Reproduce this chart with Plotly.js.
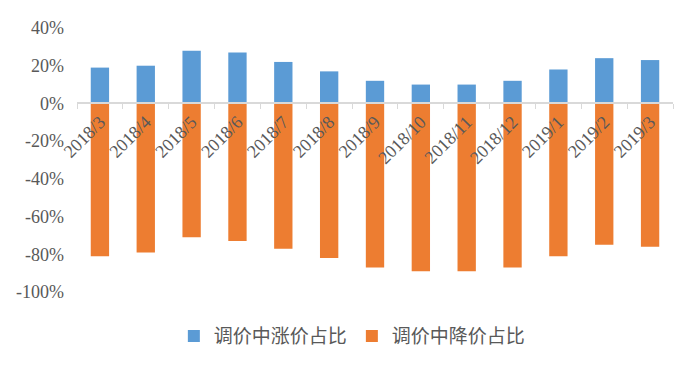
<!DOCTYPE html>
<html>
<head>
<meta charset="utf-8">
<script src="https://cdn.plot.ly/plotly-3.0.1.min.js"></script>
<style>html,body{margin:0;padding:0;background:#fff;}#chart{width:700px;height:369px;}</style>
</head>
<body>
<div id="chart"></div>
<script>
const categories = ["2018/3","2018/4","2018/5","2018/6","2018/7","2018/8","2018/9","2018/10","2018/11","2018/12","2019/1","2019/2","2019/3"];
const riseShare = [19, 20, 28, 27, 22, 17, 12, 10, 10, 12, 18, 24, 23];
const fallShare = [-81, -79, -71, -73, -77, -82, -87, -89, -89, -87, -81, -75, -76];
const seriesNames = ["调价中涨价占比", "调价中降价占比"];
const yTickVals = [-100, -80, -60, -40, -20, 0, 20, 40];
const yTickText = ["-100%", "-80%", "-60%", "-40%", "-20%", "0%", "20%", "40%"];

const yMin = -100, yMax = 40;
const serif = "'Liberation Serif', 'Times New Roman', serif";
const traces = [
  {type: "bar", name: seriesNames[0], x: categories, y: riseShare, marker: {color: "#5B9BD5"}, width: 0.4},
  {type: "bar", name: seriesNames[1], x: categories, y: fallShare, marker: {color: "#ED7D31"}, width: 0.4}
];

const layout = {
  width: 700, height: 369,
  margin: {l: 77, r: 27, t: 28, b: 77},
  paper_bgcolor: "#fff", plot_bgcolor: "#fff",
  barmode: "relative",
  showlegend: true,
  legend: {orientation: "h", x: 0.462, xanchor: "center", y: -0.167, yanchor: "middle",
           font: {family: "Noto Sans CJK SC", size: 19, color: "#595959"}, itemwidth: 30},
  xaxis: {
    type: "category",
    anchor: "free",
    position: (0 - yMin) / (yMax - yMin),
    showline: true, linecolor: "#D9D9D9", linewidth: 2,
    ticks: "outside", tickson: "boundaries", ticklen: 5, tickcolor: "#D9D9D9", tickwidth: 1,
    tickangle: -45,
    tickfont: {family: serif, size: 18, color: "#595959"},
    showgrid: false, zeroline: false, automargin: false,
    fixedrange: true
  },
  yaxis: {
    range: [yMin, yMax],
    tickvals: yTickVals, ticktext: yTickText,
    showgrid: false, zeroline: false, showline: false,
    ticks: "", ticklabelstandoff: 12,
    tickfont: {family: serif, size: 18, color: "#595959"},
    automargin: false
  }
};

Plotly.newPlot("chart", traces, layout, {displayModeBar: false, staticPlot: true});
</script>
</body>
</html>
